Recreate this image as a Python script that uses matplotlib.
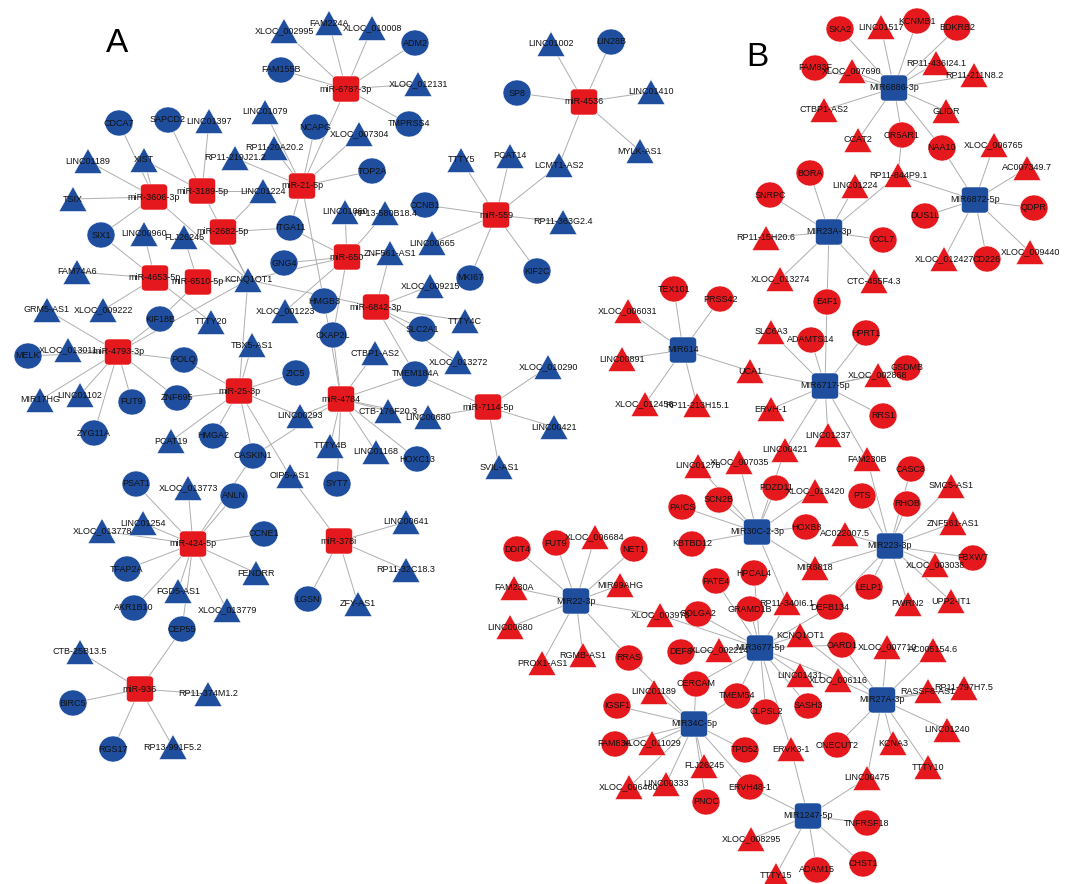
import matplotlib.pyplot as plt
from matplotlib.patches import Ellipse, FancyBboxPatch, Polygon

# ---------------- network A (up-regulated lncRNA / mRNA, down miRNA) ----------------
mirna_a = ["miR-6787-3p", "miR-21-5p", "miR-3189-5p", "miR-3606-3p", "miR-2682-5p",
           "miR-4653-5p", "miR-6510-5p", "miR-4793-3p", "miR-25-3p", "miR-650",
           "miR-559", "miR-6842-3p", "miR-4784", "miR-7114-5p", "miR-4536",
           "miR-424-5p", "miR-378i", "miR-936"]

mrna_a = ["FAM155B", "ADM2", "TMPRSS4", "NCAPG", "TOP2A", "SAPCD2", "CDCA7", "ITGA11",
          "GNG4", "SIX1", "HMGB3", "CKAP2L", "KIF18B", "MELK", "POLQ", "ZNF695", "FUT9",
          "ZYG11A", "HMGA2", "CASKIN1", "ZIC5", "SYT7", "HOXC13", "TMEM184A", "SLC2A1",
          "MKI67", "KIF2C", "CCNB1", "SP8", "LIN28B", "PSAT1", "ANLN", "CCNE1", "TFAP2A",
          "AKR1B10", "CEP55", "LGSN", "BIRC5", "RGS17"]

lnc_a = ["XLOC_002995", "FAM224A", "XLOC_010008", "XLOC_012131", "XLOC_007304",
         "LINC01079", "RP11-20A20.2", "RP11-219J21.2", "LINC01397", "LINC01189", "XIST",
         "TSIX", "LINC01224", "LINC01060", "RP13-580B18.4", "ZNF561-AS1", "LINC00665",
         "XLOC_009215", "RP11-363G2.4", "LCMT1-AS2", "PCAT14", "TTTY5", "XLOC_001223",
         "KCNQ1OT1", "TTTY4C", "CTBP1-AS2", "XLOC_013272", "XLOC_010290", "LINC00421",
         "SVIL-AS1", "LINC00680", "CTB-176F20.3", "LINC00293", "TTTY4B", "LINC01168",
         "OIP5-AS1", "PCAT19", "TBX5-AS1", "TTTY20", "XLOC_009222", "GRM5-AS1", "FAM74A6",
         "LINC00960", "FLJ26245", "XLOC_013011", "MIR17HG", "LINC01102", "XLOC_013773",
         "LINC01254", "XLOC_013778", "FENDRR", "FGD5-AS1", "XLOC_013779", "ZFY-AS1",
         "LINC00641", "RP11-32C18.3", "CTB-25B13.5", "RP11-374M1.2", "RP13-991F5.2",
         "LINC01002", "LINC01410", "MYLK-AS1"]

edges_a = [
    ("miR-6787-3p", "XLOC_002995"), ("miR-6787-3p", "FAM224A"), ("miR-6787-3p", "XLOC_010008"),
    ("miR-6787-3p", "ADM2"), ("miR-6787-3p", "FAM155B"), ("miR-6787-3p", "XLOC_012131"),
    ("miR-6787-3p", "TMPRSS4"), ("miR-6787-3p", "miR-21-5p"),
    ("miR-21-5p", "NCAPG"), ("miR-21-5p", "XLOC_007304"), ("miR-21-5p", "LINC01079"),
    ("miR-21-5p", "RP11-20A20.2"), ("miR-21-5p", "TOP2A"), ("miR-21-5p", "RP11-219J21.2"),
    ("miR-21-5p", "ITGA11"), ("miR-21-5p", "HMGB3"),
    ("miR-3189-5p", "SAPCD2"), ("miR-3189-5p", "LINC01397"), ("miR-3189-5p", "XIST"),
    ("miR-3189-5p", "LINC01224"), ("miR-3189-5p", "KCNQ1OT1"),
    ("miR-3606-3p", "CDCA7"), ("miR-3606-3p", "LINC01189"), ("miR-3606-3p", "XIST"),
    ("miR-3606-3p", "TSIX"), ("miR-3606-3p", "SIX1"), ("miR-3606-3p", "KCNQ1OT1"),
    ("miR-2682-5p", "LINC01224"), ("miR-2682-5p", "ITGA11"), ("miR-2682-5p", "KCNQ1OT1"),
    ("miR-4653-5p", "SIX1"), ("miR-4653-5p", "FAM74A6"), ("miR-4653-5p", "XLOC_009222"),
    ("miR-4653-5p", "TTTY20"), ("miR-4653-5p", "LINC00960"),
    ("miR-6510-5p", "FLJ26245"), ("miR-6510-5p", "KIF18B"), ("miR-6510-5p", "KCNQ1OT1"),
    ("miR-4793-3p", "GRM5-AS1"), ("miR-4793-3p", "XLOC_013011"), ("miR-4793-3p", "MELK"),
    ("miR-4793-3p", "MIR17HG"), ("miR-4793-3p", "LINC01102"), ("miR-4793-3p", "ZYG11A"),
    ("miR-4793-3p", "FUT9"), ("miR-4793-3p", "ZNF695"), ("miR-4793-3p", "POLQ"),
    ("miR-4793-3p", "KIF18B"), ("miR-4793-3p", "KCNQ1OT1"),
    ("miR-25-3p", "POLQ"), ("miR-25-3p", "ZNF695"), ("miR-25-3p", "HMGA2"),
    ("miR-25-3p", "PCAT19"), ("miR-25-3p", "CASKIN1"), ("miR-25-3p", "ZIC5"),
    ("miR-25-3p", "LINC00293"), ("miR-25-3p", "OIP5-AS1"), ("miR-25-3p", "TBX5-AS1"),
    ("miR-25-3p", "KCNQ1OT1"),
    ("miR-650", "ITGA11"), ("miR-650", "GNG4"), ("miR-650", "LINC01060"),
    ("miR-650", "RP13-580B18.4"), ("miR-650", "ZNF561-AS1"), ("miR-650", "XLOC_001223"),
    ("miR-650", "CKAP2L"), ("miR-650", "KCNQ1OT1"),
    ("miR-559", "CCNB1"), ("miR-559", "TTTY5"), ("miR-559", "PCAT14"),
    ("miR-559", "LCMT1-AS2"), ("miR-559", "RP11-363G2.4"), ("miR-559", "KIF2C"),
    ("miR-559", "MKI67"), ("miR-559", "LINC00665"),
    ("miR-4536", "LINC01002"), ("miR-4536", "LIN28B"), ("miR-4536", "SP8"),
    ("miR-4536", "LINC01410"), ("miR-4536", "MYLK-AS1"), ("miR-4536", "LCMT1-AS2"),
    ("miR-6842-3p", "ZNF561-AS1"), ("miR-6842-3p", "XLOC_009215"), ("miR-6842-3p", "TTTY4C"),
    ("miR-6842-3p", "SLC2A1"), ("miR-6842-3p", "XLOC_013272"), ("miR-6842-3p", "TMEM184A"),
    ("miR-6842-3p", "KCNQ1OT1"),
    ("miR-4784", "CKAP2L"), ("miR-4784", "HMGB3"), ("miR-4784", "CTBP1-AS2"),
    ("miR-4784", "TMEM184A"), ("miR-4784", "CTB-176F20.3"), ("miR-4784", "LINC00680"),
    ("miR-4784", "LINC01168"), ("miR-4784", "HOXC13"), ("miR-4784", "SYT7"),
    ("miR-4784", "TTTY4B"), ("miR-4784", "LINC00293"), ("miR-4784", "CASKIN1"),
    ("miR-7114-5p", "TMEM184A"), ("miR-7114-5p", "XLOC_010290"), ("miR-7114-5p", "LINC00421"),
    ("miR-7114-5p", "SVIL-AS1"), ("miR-7114-5p", "LINC00680"),
    ("miR-424-5p", "PSAT1"), ("miR-424-5p", "XLOC_013773"), ("miR-424-5p", "ANLN"),
    ("miR-424-5p", "LINC01254"), ("miR-424-5p", "XLOC_013778"), ("miR-424-5p", "CCNE1"),
    ("miR-424-5p", "TFAP2A"), ("miR-424-5p", "FENDRR"), ("miR-424-5p", "FGD5-AS1"),
    ("miR-424-5p", "AKR1B10"), ("miR-424-5p", "XLOC_013779"), ("miR-424-5p", "CEP55"),
    ("miR-424-5p", "CASKIN1"),
    ("miR-378i", "OIP5-AS1"), ("miR-378i", "LGSN"), ("miR-378i", "ZFY-AS1"),
    ("miR-378i", "LINC00641"), ("miR-378i", "RP11-32C18.3"),
    ("miR-936", "CEP55"), ("miR-936", "CTB-25B13.5"), ("miR-936", "BIRC5"),
    ("miR-936", "RP11-374M1.2"), ("miR-936", "RGS17"), ("miR-936", "RP13-991F5.2"),
]

# ---------------- network B (down-regulated lncRNA / mRNA, up miRNA) ----------------
mirna_b = ["MIR6886-3p", "MIR6872-5p", "MIR23A-3p", "MIR614", "MIR6717-5p", "MIR30C-2-3p",
           "MIR223-3p", "MIR22-3p", "MIR3677-5p", "MIR34C-5p", "MIR27A-3p", "MIR1247-5p"]

mrna_b = ["SKA2", "KCNMB1", "BDKRB2", "FAM83F", "OR5AR1", "NAA10", "QDPR", "CD226", "DUS1L",
          "BORA", "SNRPC", "CCL7", "TEX101", "PRSS42", "E4F1", "ADAMTS14", "HPRT1", "GSDMB",
          "RRS1", "PDZD11", "SCN2B", "PAICS", "PTS", "HOXB8", "CASC8", "RHOB", "FBXW7",
          "LELP1", "DEFB134", "OARD1", "ONECUT2", "TNFRSF18", "CHST1", "ADAM15", "ERVH48-1",
          "PNOC", "FAM83A", "IGSF1", "TPD52", "TMEM54", "CLPSL2", "SASH3", "CERCAM", "DEF8",
          "GOLGA2", "GRAMD1B", "PATE4", "HPCAL4", "KBTBD12", "RRAS", "DDIT4", "FUT9", "NET1"]

lnc_b = ["LINC01517", "XLOC_007690", "RP11-436I24.1", "RP11-211N8.2", "CTBP1-AS2", "GLIDR",
         "CCAT2", "XLOC_006765", "AC007349.7", "XLOC_009440", "XLOC_012427", "RP11-844P9.1",
         "LINC01224", "RP11-15H20.6", "XLOC_013274", "CTC-455F4.3", "XLOC_006031",
         "LINC00891", "XLOC_012456", "RP11-213H15.1", "UCA1", "SLC6A3", "XLOC_002868",
         "ERVH-1", "LINC01237", "LINC00421", "FAM230B", "LINC01278", "XLOC_007035",
         "XLOC_013420", "SMC5-AS1", "ZNF561-AS1", "XLOC_003038", "UPP2-IT1", "PWRN2",
         "AC022007.5", "MIR6818", "XLOC_007710", "AC005154.6", "RASSF8-AS1", "RP11-797H7.5",
         "LINC01240", "KCNA3", "TTTY10", "LINC00475", "TTTY15", "XLOC_008295", "ERVK3-1",
         "FLJ26245", "LINC00333", "XLOC_006460", "XLOC_011029", "LINC01189", "LINC01431",
         "XLOC_006116", "XLOC_002214", "XLOC_003973", "RP11-340I6.1", "KCNQ1OT1",
         "XLOC_006684", "MIR99AHG", "FAM230A", "LINC00680", "PROX1-AS1", "RGMB-AS1"]

edges_b = [
    ("MIR6886-3p", "SKA2"), ("MIR6886-3p", "LINC01517"), ("MIR6886-3p", "KCNMB1"),
    ("MIR6886-3p", "BDKRB2"), ("MIR6886-3p", "FAM83F"), ("MIR6886-3p", "XLOC_007690"),
    ("MIR6886-3p", "RP11-436I24.1"), ("MIR6886-3p", "RP11-211N8.2"), ("MIR6886-3p", "CTBP1-AS2"),
    ("MIR6886-3p", "GLIDR"), ("MIR6886-3p", "CCAT2"), ("MIR6886-3p", "OR5AR1"),
    ("MIR6886-3p", "NAA10"), ("OR5AR1", "RP11-844P9.1"),
    ("MIR6872-5p", "NAA10"), ("MIR6872-5p", "XLOC_006765"), ("MIR6872-5p", "AC007349.7"),
    ("MIR6872-5p", "QDPR"), ("MIR6872-5p", "XLOC_009440"), ("MIR6872-5p", "CD226"),
    ("MIR6872-5p", "XLOC_012427"), ("MIR6872-5p", "DUS1L"), ("MIR6872-5p", "RP11-844P9.1"),
    ("MIR23A-3p", "BORA"), ("MIR23A-3p", "SNRPC"), ("MIR23A-3p", "LINC01224"),
    ("MIR23A-3p", "RP11-844P9.1"), ("MIR23A-3p", "RP11-15H20.6"), ("MIR23A-3p", "CCL7"),
    ("MIR23A-3p", "XLOC_013274"), ("MIR23A-3p", "CTC-455F4.3"), ("MIR23A-3p", "E4F1"),
    ("MIR614", "TEX101"), ("MIR614", "PRSS42"), ("MIR614", "XLOC_006031"),
    ("MIR614", "LINC00891"), ("MIR614", "XLOC_012456"), ("MIR614", "RP11-213H15.1"),
    ("MIR614", "UCA1"),
    ("MIR6717-5p", "UCA1"), ("MIR6717-5p", "E4F1"), ("MIR6717-5p", "SLC6A3"),
    ("MIR6717-5p", "ADAMTS14"), ("MIR6717-5p", "HPRT1"), ("MIR6717-5p", "XLOC_002868"),
    ("MIR6717-5p", "GSDMB"), ("MIR6717-5p", "RRS1"), ("MIR6717-5p", "ERVH-1"),
    ("MIR6717-5p", "LINC01237"), ("MIR6717-5p", "LINC00421"), ("MIR6717-5p", "FAM230B"),
    ("MIR30C-2-3p", "LINC00421"), ("MIR30C-2-3p", "LINC01278"), ("MIR30C-2-3p", "XLOC_007035"),
    ("MIR30C-2-3p", "PDZD11"), ("MIR30C-2-3p", "XLOC_013420"), ("MIR30C-2-3p", "SCN2B"),
    ("MIR30C-2-3p", "PAICS"), ("MIR30C-2-3p", "KBTBD12"), ("MIR30C-2-3p", "HOXB8"),
    ("MIR30C-2-3p", "MIR6818"), ("MIR30C-2-3p", "RP11-340I6.1"),
    ("MIR223-3p", "FAM230B"), ("MIR223-3p", "PTS"), ("MIR223-3p", "CASC8"),
    ("MIR223-3p", "RHOB"), ("MIR223-3p", "SMC5-AS1"), ("MIR223-3p", "ZNF561-AS1"),
    ("MIR223-3p", "FBXW7"), ("MIR223-3p", "XLOC_003038"), ("MIR223-3p", "UPP2-IT1"),
    ("MIR223-3p", "PWRN2"), ("MIR223-3p", "LELP1"), ("MIR223-3p", "AC022007.5"),
    ("MIR223-3p", "MIR6818"), ("MIR223-3p", "DEFB134"),
    ("MIR22-3p", "DDIT4"), ("MIR22-3p", "FUT9"), ("MIR22-3p", "XLOC_006684"),
    ("MIR22-3p", "NET1"), ("MIR22-3p", "MIR99AHG"), ("MIR22-3p", "FAM230A"),
    ("MIR22-3p", "LINC00680"), ("MIR22-3p", "PROX1-AS1"), ("MIR22-3p", "RGMB-AS1"),
    ("MIR22-3p", "RRAS"), ("MIR22-3p", "XLOC_003973"),
    ("MIR3677-5p", "XLOC_003973"), ("MIR3677-5p", "GOLGA2"), ("MIR3677-5p", "GRAMD1B"),
    ("MIR3677-5p", "HPCAL4"), ("MIR3677-5p", "PATE4"), ("MIR3677-5p", "RP11-340I6.1"),
    ("MIR3677-5p", "KCNQ1OT1"), ("MIR3677-5p", "DEFB134"), ("MIR3677-5p", "DEF8"),
    ("MIR3677-5p", "XLOC_002214"), ("MIR3677-5p", "CERCAM"), ("MIR3677-5p", "TMEM54"),
    ("MIR3677-5p", "CLPSL2"), ("MIR3677-5p", "SASH3"), ("MIR3677-5p", "LINC01431"),
    ("MIR3677-5p", "XLOC_006116"), ("MIR3677-5p", "ERVK3-1"), ("MIR3677-5p", "OARD1"),
    ("MIR34C-5p", "LINC01189"), ("MIR34C-5p", "RRAS"), ("MIR34C-5p", "IGSF1"),
    ("MIR34C-5p", "FAM83A"), ("MIR34C-5p", "XLOC_011029"), ("MIR34C-5p", "XLOC_006460"),
    ("MIR34C-5p", "LINC00333"), ("MIR34C-5p", "FLJ26245"), ("MIR34C-5p", "PNOC"),
    ("MIR34C-5p", "TPD52"), ("MIR34C-5p", "ERVH48-1"), ("MIR34C-5p", "TMEM54"),
    ("MIR34C-5p", "CERCAM"),
    ("MIR1247-5p", "ERVK3-1"), ("MIR1247-5p", "ERVH48-1"), ("MIR1247-5p", "LINC00475"),
    ("MIR1247-5p", "TNFRSF18"), ("MIR1247-5p", "CHST1"), ("MIR1247-5p", "ADAM15"),
    ("MIR1247-5p", "TTTY15"), ("MIR1247-5p", "XLOC_008295"),
    ("MIR27A-3p", "OARD1"), ("MIR27A-3p", "XLOC_007710"), ("MIR27A-3p", "AC005154.6"),
    ("MIR27A-3p", "RASSF8-AS1"), ("MIR27A-3p", "RP11-797H7.5"), ("MIR27A-3p", "LINC01240"),
    ("MIR27A-3p", "TTTY10"), ("MIR27A-3p", "KCNA3"), ("MIR27A-3p", "ONECUT2"),
    ("MIR27A-3p", "LINC00475"), ("MIR27A-3p", "XLOC_006116"), ("MIR27A-3p", "KCNQ1OT1"),
]

# ---------------- layout (pixel positions, y downward) ----------------
layout_a = {
    "miR-6787-3p": (346, 89), "miR-21-5p": (302, 186), "miR-3189-5p": (202, 191),
    "miR-3606-3p": (154, 197), "miR-2682-5p": (223, 232), "miR-4653-5p": (155, 278),
    "miR-6510-5p": (198, 282), "miR-4793-3p": (118, 352), "miR-25-3p": (239, 391),
    "miR-650": (347, 257), "miR-559": (496, 215), "miR-6842-3p": (376, 307),
    "miR-4784": (341, 399), "miR-7114-5p": (488, 407), "miR-4536": (584, 102),
    "miR-424-5p": (193, 544), "miR-378i": (339, 541), "miR-936": (140, 689),
    "XLOC_002995": (284, 31), "FAM224A": (329, 23), "XLOC_010008": (372, 28), "ADM2": (415, 43),
    "FAM155B": (281, 70), "XLOC_012131": (418, 84), "TMPRSS4": (409, 124), "NCAPG": (315, 127),
    "XLOC_007304": (359, 134), "LINC01079": (265, 112), "RP11-20A20.2": (274, 148),
    "TOP2A": (372, 171), "RP11-219J21.2": (235, 158), "LINC01397": (209, 121),
    "SAPCD2": (168, 120), "CDCA7": (119, 123), "LINC01189": (88, 161), "XIST": (144, 160),
    "TSIX": (73, 199), "LINC01224": (263, 191), "ITGA11": (290, 228), "LINC01060": (345, 212),
    "RP13-580B18.4": (385, 213), "CCNB1": (425, 205), "GNG4": (284, 263),
    "ZNF561-AS1": (390, 253), "LINC00665": (432, 243), "XLOC_009215": (430, 286),
    "MKI67": (470, 278), "KIF2C": (537, 271), "RP11-363G2.4": (563, 222),
    "LCMT1-AS2": (559, 165), "PCAT14": (510, 156), "TTTY5": (461, 160), "HMGB3": (324, 301),
    "XLOC_001223": (285, 311), "KCNQ1OT1": (248, 280), "CKAP2L": (333, 335),
    "SLC2A1": (422, 329), "TTTY4C": (465, 321), "CTBP1-AS2": (375, 353),
    "XLOC_013272": (458, 362), "TMEM184A": (415, 374), "XLOC_010290": (548, 367),
    "LINC00421": (554, 427), "SVIL-AS1": (499, 467), "LINC00680": (428, 417),
    "CTB-176F20.3": (388, 411), "ZIC5": (296, 373), "LINC00293": (300, 416),
    "TTTY4B": (330, 446), "LINC01168": (376, 452), "HOXC13": (417, 459), "SYT7": (337, 484),
    "OIP5-AS1": (290, 476), "CASKIN1": (253, 456), "HMGA2": (213, 436), "PCAT19": (171, 441),
    "ZNF695": (177, 398), "POLQ": (184, 360), "TBX5-AS1": (252, 345), "TTTY20": (211, 322),
    "KIF18B": (160, 319), "XLOC_009222": (103, 310), "GRM5-AS1": (47, 310),
    "FAM74A6": (77, 272), "SIX1": (101, 235), "LINC00960": (144, 234), "FLJ26245": (184, 237),
    "MELK": (28, 356), "XLOC_013011": (68, 350), "MIR17HG": (40, 400), "LINC01102": (80, 395),
    "FUT9": (132, 402), "ZYG11A": (94, 433), "PSAT1": (136, 484), "XLOC_013773": (188, 488),
    "ANLN": (234, 496), "LINC01254": (143, 523), "XLOC_013778": (102, 531), "CCNE1": (264, 534),
    "TFAP2A": (127, 569), "FENDRR": (256, 573), "FGD5-AS1": (178, 591), "AKR1B10": (134, 608),
    "XLOC_013779": (227, 610), "CEP55": (182, 629), "LGSN": (308, 599), "ZFY-AS1": (358, 604),
    "LINC00641": (406, 522), "RP11-32C18.3": (406, 570), "CTB-25B13.5": (80, 652),
    "BIRC5": (73, 703), "RP11-374M1.2": (208, 694), "RGS17": (113, 749),
    "RP13-991F5.2": (173, 747), "LINC01002": (551, 44), "LIN28B": (611, 42), "SP8": (517, 93),
    "LINC01410": (651, 92), "MYLK-AS1": (640, 151),
}

layout_b = {
    "MIR6886-3p": (894, 88), "MIR6872-5p": (975, 200), "MIR23A-3p": (829, 232),
    "MIR614": (683, 350), "MIR6717-5p": (825, 386), "MIR30C-2-3p": (757, 532),
    "MIR223-3p": (890, 546), "MIR22-3p": (576, 601), "MIR3677-5p": (760, 648),
    "MIR34C-5p": (694, 724), "MIR27A-3p": (882, 700), "MIR1247-5p": (808, 816),
    "SKA2": (840, 29), "LINC01517": (881, 27), "KCNMB1": (917, 21), "BDKRB2": (957, 28),
    "FAM83F": (815, 68), "XLOC_007690": (852, 71), "RP11-436I24.1": (936, 63),
    "RP11-211N8.2": (974, 75), "CTBP1-AS2": (824, 110), "GLIDR": (946, 111), "CCAT2": (858, 140),
    "OR5AR1": (902, 135), "NAA10": (942, 148), "XLOC_006765": (994, 145),
    "AC007349.7": (1027, 168), "QDPR": (1034, 208), "XLOC_009440": (1030, 252),
    "CD226": (987, 259), "XLOC_012427": (944, 259), "DUS1L": (925, 216),
    "RP11-844P9.1": (898, 175), "BORA": (810, 173), "LINC01224": (855, 186),
    "SNRPC": (770, 195), "RP11-15H20.6": (766, 238), "CCL7": (883, 240),
    "XLOC_013274": (780, 279), "CTC-455F4.3": (874, 281), "TEX101": (674, 289),
    "PRSS42": (720, 299), "XLOC_006031": (628, 311), "LINC00891": (622, 359),
    "XLOC_012456": (645, 404), "RP11-213H15.1": (697, 405), "UCA1": (750, 371),
    "E4F1": (827, 302), "SLC6A3": (771, 332), "ADAMTS14": (811, 340), "HPRT1": (866, 333),
    "XLOC_002868": (878, 375), "GSDMB": (907, 368), "RRS1": (883, 416), "ERVH-1": (771, 409),
    "LINC01237": (828, 435), "LINC00421": (785, 450), "FAM230B": (867, 459),
    "LINC01278": (698, 466), "XLOC_007035": (739, 462), "PDZD11": (776, 488),
    "XLOC_013420": (815, 491), "SCN2B": (719, 500), "PAICS": (682, 507), "PTS": (862, 496),
    "HOXB8": (806, 527), "CASC8": (911, 469), "RHOB": (907, 504), "SMC5-AS1": (951, 486),
    "ZNF561-AS1": (953, 523), "FBXW7": (973, 558), "XLOC_003038": (935, 565),
    "UPP2-IT1": (951, 601), "PWRN2": (908, 604), "LELP1": (869, 587), "AC022007.5": (845, 534),
    "MIR6818": (815, 568), "DEFB134": (830, 607), "OARD1": (842, 645), "XLOC_007710": (887, 647),
    "AC005154.6": (933, 650), "RASSF8-AS1": (928, 691), "RP11-797H7.5": (964, 688),
    "LINC01240": (947, 730), "KCNA3": (893, 743), "TTTY10": (928, 767), "ONECUT2": (837, 745),
    "LINC00475": (867, 778), "TNFRSF18": (867, 823), "CHST1": (863, 864), "ADAM15": (817, 870),
    "TTTY15": (776, 875), "XLOC_008295": (751, 839), "ERVH48-1": (750, 787),
    "ERVK3-1": (791, 749), "PNOC": (706, 802), "FLJ26245": (704, 766), "LINC00333": (666, 784),
    "XLOC_006460": (629, 787), "XLOC_011029": (652, 743), "FAM83A": (615, 744),
    "IGSF1": (617, 706), "LINC01189": (654, 692), "TPD52": (745, 750), "TMEM54": (737, 696),
    "CLPSL2": (766, 712), "SASH3": (808, 706), "LINC01431": (800, 675), "XLOC_006116": (838, 680),
    "CERCAM": (696, 684), "DEF8": (681, 652), "XLOC_002214": (719, 650), "GOLGA2": (698, 614),
    "XLOC_003973": (660, 615), "GRAMD1B": (750, 609), "RP11-340I6.1": (787, 603),
    "KCNQ1OT1": (800, 635), "PATE4": (716, 581), "HPCAL4": (754, 573), "KBTBD12": (692, 544),
    "RRAS": (629, 658), "DDIT4": (517, 549), "FUT9": (556, 543), "XLOC_006684": (595, 537),
    "NET1": (634, 549), "MIR99AHG": (620, 585), "FAM230A": (514, 588), "LINC00680": (510, 627),
    "PROX1-AS1": (542, 663), "RGMB-AS1": (583, 655),
}

RED = "#E5191D"
BLUE = "#1F4E9E"
EDGE = "#AEAEAE"

fig = plt.figure(figsize=(10.65, 8.84), dpi=100)
ax = fig.add_axes([0, 0, 1, 1])
ax.set_xlim(0, 1065)
ax.set_ylim(884, 0)
ax.axis("off")


def draw_network(layout, edges, hubs, circles, triangles, hub_color, node_color):
    for a, b in edges:
        (x0, y0), (x1, y1) = layout[a], layout[b]
        ax.plot([x0, x1], [y0, y1], color=EDGE, lw=0.7, zorder=1, solid_capstyle="butt")
    for name in circles:
        x, y = layout[name]
        ax.add_patch(Ellipse((x, y), 28, 26, facecolor=node_color,
                             edgecolor="white", lw=0.4, zorder=2))
    for name in triangles:
        x, y = layout[name]
        ax.add_patch(Polygon([(x - 14, y + 12.5), (x + 14, y + 12.5), (x, y - 12.5)],
                             closed=True, facecolor=node_color, edgecolor="white",
                             lw=0.4, zorder=2))
    for name in hubs:
        x, y = layout[name]
        ax.add_patch(FancyBboxPatch((x - 13.5, y - 13), 27, 26,
                                    boxstyle="round,pad=0,rounding_size=4",
                                    facecolor=hub_color, edgecolor="white", lw=0.4, zorder=2))
    for name in list(circles) + list(triangles) + list(hubs):
        x, y = layout[name]
        ax.text(x, y, name, ha="center", va="center", fontsize=6.5,
                family=["Liberation Sans", "DejaVu Sans"], color="#111111", zorder=3)


draw_network(layout_a, edges_a, mirna_a, mrna_a, lnc_a, RED, BLUE)
draw_network(layout_b, edges_b, mirna_b, mrna_b, lnc_b, BLUE, RED)

ax.text(117, 43, "A", ha="center", va="center", fontsize=24,
        family=["Liberation Sans", "DejaVu Sans"])
ax.text(757, 58, "B", ha="center", va="center", fontsize=24,
        family=["Liberation Sans", "DejaVu Sans"])

fig.savefig("out.png", dpi=100)
